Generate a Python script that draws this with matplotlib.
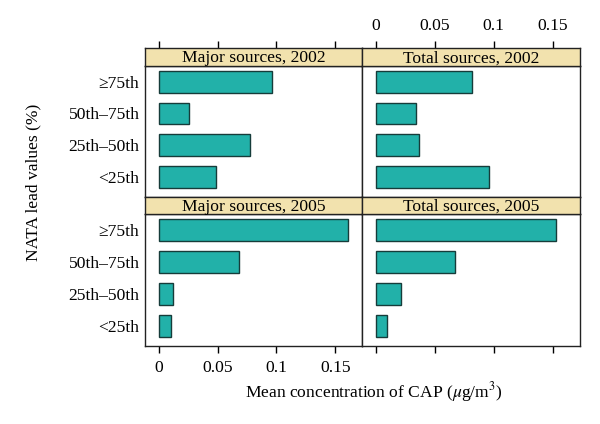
import matplotlib.pyplot as plt

plt.rcParams["font.family"] = ["Liberation Serif", "DejaVu Serif"]
plt.rcParams["mathtext.fontset"] = "stix"

categories = ["<25th", "25th\u201350th", "50th\u201375th", "\u226575th"]
major_2002 = [0.0483, 0.0774, 0.0252, 0.0963]
total_2002 = [0.0961, 0.0362, 0.0336, 0.0814]
major_2005 = [0.0099, 0.0119, 0.0678, 0.1607]
total_2005 = [0.0091, 0.0209, 0.0673, 0.1531]
x_ticks = [0, 0.05, 0.1, 0.15]
x_tick_labels = ["0", "0.05", "0.1", "0.15"]

bar_color = "#22b1a9"
edge_color = "#163c3a"
strip_color = "#f2e2ae"
fs = 12.6

W, H = 600, 424
fig = plt.figure(figsize=(W / 100, H / 100), dpi=100)


def px_axes(x0, y0, x1, y1):
    # pixel box (top-left origin) -> figure axes
    return fig.add_axes([x0 / W, 1 - y1 / H, (x1 - x0) / W, (y1 - y0) / H])


cols = [(145, 362), (362, 579.5)]
rows = [(48, 66, 196.7), (196.7, 214.3, 345.7)]
panels = [
    [("Major sources, 2002", major_2002), ("Total sources, 2002", total_2002)],
    [("Major sources, 2005", major_2005), ("Total sources, 2005", total_2005)],
]
xlim = (-0.0118, 0.1727)
ypos = list(range(1, len(categories) + 1))

for r, (s0, s1, b1) in enumerate(rows):
    for c, (x0, x1) in enumerate(cols):
        title, vals = panels[r][c]
        ax = px_axes(x0, s1, x1, b1)
        ax.barh(ypos, vals, height=0.69, color=bar_color,
                edgecolor=edge_color, linewidth=1.0)
        ax.set_xlim(xlim)
        ax.set_ylim(0.37, 4.5)
        ax.set_xticks(x_ticks)
        if c == 0:
            ax.set_yticks(ypos)
            ax.set_yticklabels(categories, fontsize=fs)
            ax.tick_params(axis="y", length=0, pad=4)
        else:
            ax.set_yticks([])
        if r == 1:
            ax.tick_params(axis="x", direction="out", length=5, width=1,
                           pad=5, labelsize=fs)
            if c == 0:
                ax.set_xticklabels(x_tick_labels)
            else:
                ax.set_xticklabels([])
        else:
            ax.tick_params(axis="x", length=0, labelbottom=False)
        for sp in ax.spines.values():
            sp.set_linewidth(1.0)
            sp.set_color("#222222")

        st = px_axes(x0, s0, x1, s1)
        st.set_facecolor(strip_color)
        st.set_xlim(xlim)
        st.set_yticks([])
        st.set_xticks(x_ticks)
        st.text(0.5, 0.42, title, transform=st.transAxes, ha="center",
                va="center", fontsize=fs)
        if r == 0:
            st.tick_params(axis="x", direction="out", length=5, width=1,
                           pad=5, labelsize=fs, bottom=False,
                           labelbottom=False, top=True, labeltop=(c == 1))
            if c == 1:
                st.set_xticklabels(x_tick_labels)
        else:
            st.tick_params(axis="x", length=0, labelbottom=False)
        for sp in st.spines.values():
            sp.set_linewidth(1.0)
            sp.set_color("#222222")

fig.text(374 / W, 1 - 392 / H, r"Mean concentration of CAP ($\mu$g/m$^3$)",
         ha="center", va="center", fontsize=fs)
fig.text(33 / W, 1 - 182 / H, "NATA lead values (%)", rotation=90,
         ha="center", va="center", fontsize=fs)

fig.savefig("out.png", dpi=100)
